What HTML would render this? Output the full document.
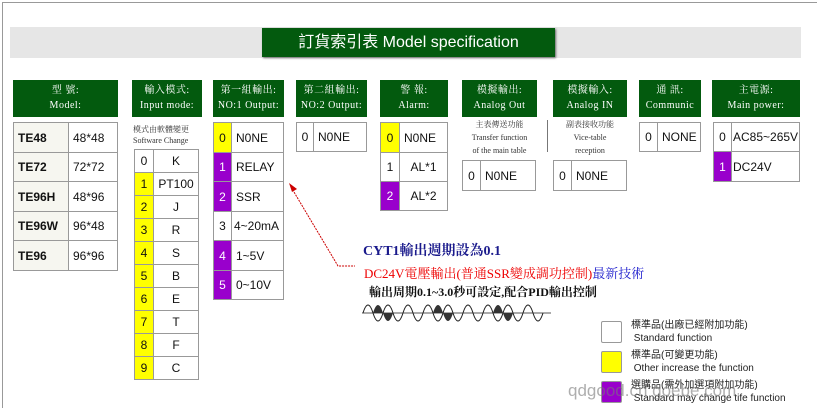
<!DOCTYPE html>
<html><head><meta charset="utf-8"><style>
body{margin:0;width:817px;height:407px;background:#fff;position:relative;overflow:hidden;font-family:"Liberation Sans","Noto Sans CJK TC",sans-serif}
.a{position:absolute}
.h{position:absolute;background:#035a0e;color:#fff;text-align:center;font-family:"Liberation Serif","Noto Serif CJK SC",serif;font-size:10px;line-height:15px;padding-top:3px;box-sizing:border-box;letter-spacing:.5px;white-space:nowrap}
.t{position:absolute;border-collapse:collapse}
.t td{border:1px solid #999;padding:0 0 0 4px;font-size:12px;color:#111}
.y{background:#ffff00}.p{background:#9900cc;color:#fff!important}
.n{text-align:center;padding:0!important}
</style></head><body>
<div class="a" style="left:2px;top:2px;width:815px;height:405px;border-left:1px solid #999;border-top:1px solid #999"></div>
<div class="a" style="left:10px;top:27px;width:791px;height:31px;background:#e6e6e6"></div>
<div class="a" style="left:262px;top:28px;width:293px;height:29px;background:#035a0e;color:#fff;font-size:16px;line-height:29px;text-align:center;box-shadow:1px 1px 2px #666;white-space:nowrap">訂貨索引表 Model specification</div>

<div class="h" style="left:13px;top:80px;width:105px;height:37px">型 號:<br>Model:</div>
<div class="h" style="left:132px;top:80px;width:70px;height:37px">輸入模式:<br>Input mode:</div>
<div class="h" style="left:213px;top:80px;width:71px;height:37px">第一組輸出:<br>NO:1 Output:</div>
<div class="h" style="left:296px;top:80px;width:71px;height:37px">第二組輸出:<br>NO:2 Output:</div>
<div class="h" style="left:380px;top:80px;width:68px;height:37px">警 報:<br>Alarm:</div>
<div class="h" style="left:462px;top:80px;width:75px;height:37px">模擬輸出:<br>Analog Out</div>
<div class="h" style="left:553px;top:80px;width:74px;height:37px">模擬輸入:<br>Analog IN</div>
<div class="h" style="left:639px;top:80px;width:62px;height:37px">通 訊:<br>Communic</div>
<div class="h" style="left:712px;top:80px;width:88px;height:37px">主電源:<br>Main power:</div>

<table class="t" style="left:13px;top:122px;width:105px">
<tr style="height:30px"><td style="background:#f6f6f0;font-weight:bold;width:50px">TE48</td><td>48*48</td></tr>
<tr style="height:29px"><td style="background:#f6f6f0;font-weight:bold">TE72</td><td>72*72</td></tr>
<tr style="height:30px"><td style="background:#f6f6f0;font-weight:bold">TE96H</td><td>48*96</td></tr>
<tr style="height:29px"><td style="background:#f6f6f0;font-weight:bold">TE96W</td><td>96*48</td></tr>
<tr style="height:30px"><td style="background:#f6f6f0;font-weight:bold">TE96</td><td>96*96</td></tr>
</table>

<div class="a" style="left:133px;top:124px;font-size:8px;line-height:11px;font-family:'Liberation Serif','Noto Serif CJK SC',serif;color:#333;white-space:nowrap">模式由軟體變更<br>Software Change</div>
<table class="t" style="left:134px;top:149px;width:65px">
<tr style="height:23px"><td class="n" style="width:18px">0</td><td class="n">K</td></tr>
<tr style="height:23px"><td class="n y">1</td><td class="n">PT100</td></tr>
<tr style="height:23px"><td class="n y">2</td><td class="n">J</td></tr>
<tr style="height:23px"><td class="n y">3</td><td class="n">R</td></tr>
<tr style="height:23px"><td class="n y">4</td><td class="n">S</td></tr>
<tr style="height:23px"><td class="n y">5</td><td class="n">B</td></tr>
<tr style="height:23px"><td class="n y">6</td><td class="n">E</td></tr>
<tr style="height:23px"><td class="n y">7</td><td class="n">T</td></tr>
<tr style="height:23px"><td class="n y">8</td><td class="n">F</td></tr>
<tr style="height:23px"><td class="n y">9</td><td class="n">C</td></tr>
</table>

<table class="t" style="left:213px;top:122px;width:71px">
<tr style="height:30px"><td class="n y" style="width:17px">0</td><td>N0NE</td></tr>
<tr style="height:29px"><td class="n p">1</td><td>RELAY</td></tr>
<tr style="height:30px"><td class="n p">2</td><td>SSR</td></tr>
<tr style="height:29px"><td class="n">3</td><td style="padding-left:2px">4~20mA</td></tr>
<tr style="height:30px"><td class="n p">4</td><td>1~5V</td></tr>
<tr style="height:29px"><td class="n p">5</td><td>0~10V</td></tr>
</table>

<table class="t" style="left:296px;top:122px;width:71px">
<tr style="height:29px"><td class="n" style="width:16px">0</td><td>N0NE</td></tr>
</table>

<table class="t" style="left:380px;top:122px;width:68px">
<tr style="height:30px"><td class="n y" style="width:18px">0</td><td>N0NE</td></tr>
<tr style="height:29px"><td class="n">1</td><td class="n">AL*1</td></tr>
<tr style="height:29px"><td class="n p">2</td><td class="n">AL*2</td></tr>
</table>

<div class="a" style="left:462px;top:118px;width:75px;text-align:center;font-size:8px;line-height:13px;font-family:'Liberation Serif','Noto Serif CJK SC',serif;color:#333;white-space:nowrap">主表傳送功能<br>Transfer function<br>of the main table</div>
<div class="a" style="left:547px;top:120px;width:1px;height:32px;background:#777"></div>
<div class="a" style="left:553px;top:118px;width:74px;text-align:center;font-size:8px;line-height:13px;font-family:'Liberation Serif','Noto Serif CJK SC',serif;color:#333">副表接收功能<br>Vice-table<br>reception</div>
<table class="t" style="left:462px;top:160px;width:74px">
<tr style="height:30px"><td class="n" style="width:17px">0</td><td>N0NE</td></tr></table>
<table class="t" style="left:553px;top:160px;width:74px">
<tr style="height:30px"><td class="n" style="width:17px">0</td><td>N0NE</td></tr></table>
<table class="t" style="left:639px;top:122px;width:62px">
<tr style="height:29px"><td class="n" style="width:17px">0</td><td>NONE</td></tr></table>
<table class="t" style="left:713px;top:122px;width:87px">
<tr style="height:29px"><td class="n" style="width:17px">0</td><td style="padding-left:1px">AC85~265V</td></tr>
<tr style="height:30px"><td class="n p">1</td><td style="padding-left:1px">DC24V</td></tr></table>

<svg class="a" style="left:0;top:0" width="817" height="407">
<path d="M291,187 L338,266 L355,266" fill="none" stroke="#c00" stroke-width="1" stroke-dasharray="2,1"/>
<path d="M289,183 L297,189 L292,192 Z" fill="#c00"/>
<line x1="362" y1="313" x2="551" y2="313" stroke="#555" stroke-width="1"/>
<g fill="none" stroke="#222">
<path d="M363,313 q5,-16 10,0 q5,16 10,0 q5,-16 10,0 q5,16 10,0 q5,-16 10,0 q5,16 10,0 q5,-16 10,0 q5,16 10,0 q5,-16 10,0 q5,16 10,0 q5,-16 10,0 q5,16 10,0 q5,-16 10,0 q5,16 10,0 q5,-16 10,0 q5,16 10,0 q5,-16 10,0 q5,16 10,0"/>
</g>
<g fill="#333">
<path d="M373,313 q5,-16 10,0 q5,16 10,0 Z"/>
<path d="M433,313 q5,-16 10,0 q5,16 10,0 Z"/>
<path d="M493,313 q5,-16 10,0 q5,16 10,0 Z"/>
</g>
</svg>
<div class="a" style="left:363px;top:240px;font-size:14px;color:#1a1a8c;font-family:'Liberation Serif','Noto Serif CJK SC',serif;font-weight:bold;white-space:nowrap">CYT1輸出週期設為0.1</div>
<div class="a" style="left:364px;top:263px;font-size:13px;color:#e00;font-family:'Liberation Serif','Noto Serif CJK SC',serif;white-space:nowrap">DC24V電壓輸出(普通SSR變成調功控制)<span style="color:#1a1acc">最新技術</span></div>
<div class="a" style="left:369px;top:283px;font-size:12px;color:#111;font-family:'Liberation Serif','Noto Serif CJK SC',serif;font-weight:bold;white-space:nowrap">輸出周期0.1~3.0秒可設定,配合PID輸出控制</div>

<div class="a" style="left:601px;top:321px;width:19px;height:20px;border:1px solid #999;border-radius:2px;background:#fff"></div>
<div class="a" style="left:601px;top:351px;width:19px;height:20px;border:1px solid #999;border-radius:2px;background:#ffff00"></div>
<div class="a" style="left:601px;top:381px;width:19px;height:20px;border:1px solid #999;border-radius:2px;background:#9900cc"></div>
<div class="a" style="left:631px;top:319px;font-size:10px;line-height:13px;color:#222;white-space:nowrap">標準品(出廠已經附加功能)<br>&nbsp;Standard function</div>
<div class="a" style="left:631px;top:349px;font-size:10px;line-height:13px;color:#222;white-space:nowrap">標準品(可變更功能)<br>&nbsp;Other increase the function</div>
<div class="a" style="left:631px;top:379px;font-size:10px;line-height:13px;color:#222;white-space:nowrap">選購品(需外加選項附加功能)<br>&nbsp;Standard may change tife function</div>
<div class="a" style="left:568px;top:381px;font-size:17px;color:rgba(120,120,120,.6);white-space:nowrap">qdgood.cn goebe.com</div>
</body></html>
